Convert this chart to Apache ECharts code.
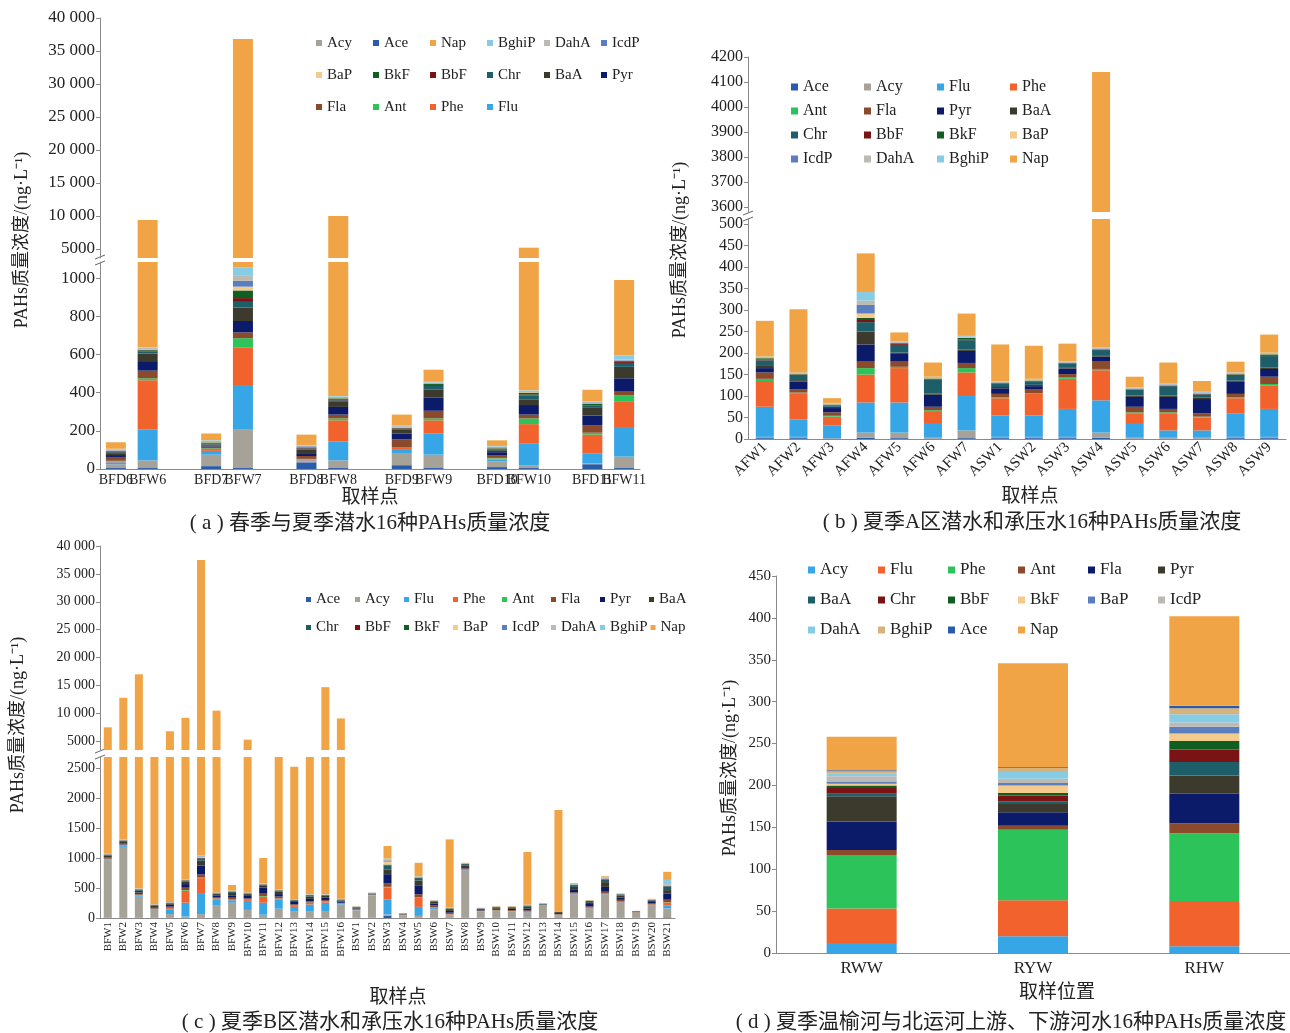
<!DOCTYPE html>
<html>
<head>
<meta charset="utf-8">
<script src="https://cdn.jsdelivr.net/npm/echarts@6/dist/echarts.min.js"></script>
<style>
html,body{margin:0;padding:0;background:#fff;}
#chart{width:1290px;height:1033px;}
</style>
</head>
<body>
<div id="chart"></div>
<script>
const SERIF = '"Liberation Serif","Times New Roman","Noto Sans CJK SC",serif';

// ---------- (a) spring / summer phreatic water, B area ----------
const aSites = ['BFD6','BFW6','BFD7','BFW7','BFD8','BFW8','BFD9','BFW9','BFD10','BFW10','BFD11','BFW11'];
const aAce   = [5, 5, 15, 5, 35, 5, 20, 5, 10, 5, 25, 5];
const aAcy   = [20, 40, 60, 200, 5, 40, 60, 70, 30, 15, 5, 60];
const aFlu   = [10, 160, 20, 230, 5, 100, 20, 110, 10, 115, 50, 150];
const aPhe   = [5, 260, 10, 200, 5, 110, 10, 70, 5, 100, 100, 140];
const aAnt   = [3, 10, 3, 50, 3, 10, 5, 10, 3, 30, 10, 30];
const aFla   = [20, 40, 10, 30, 15, 20, 40, 40, 15, 20, 40, 20];
const aPyr   = [10, 50, 5, 60, 15, 40, 30, 70, 15, 50, 50, 70];
const aBaA   = [10, 40, 5, 70, 20, 30, 20, 40, 10, 30, 40, 60];
const aChr   = [5, 10, 5, 30, 5, 5, 5, 20, 5, 20, 10, 20];
const aBbF   = [3, 5, 3, 20, 3, 5, 3, 5, 3, 5, 3, 5];
const aBkF   = [3, 5, 3, 40, 3, 5, 3, 5, 3, 10, 10, 5];
const aBaP   = [3, 3, 3, 20, 3, 3, 3, 3, 3, 3, 3, 3];
const aIcdP  = [3, 3, 3, 30, 3, 3, 3, 3, 3, 3, 3, 3];
const aDahA  = [3, 3, 3, 30, 3, 3, 3, 3, 3, 3, 3, 3];
const aBghiP = [3, 3, 3, 40, 3, 3, 3, 3, 3, 3, 3, 20];
const aNap   = [34, 8760, 35, 35745, 54, 9618, 57, 63, 29, 4790, 60, 396];
const aUpperTicks = [5000, 10000, 15000, 20000, 25000, 30000, 35000, 40000];
const aLowerTicks = [0, 200, 400, 600, 800, 1000];
const aLegend = ['Acy','Ace','Nap','BghiP','DahA','IcdP','BaP','BkF','BbF','Chr','BaA','Pyr','Fla','Ant','Phe','Flu'];

// ---------- (b) summer, A area ----------
const bSites = ['AFW1','AFW2','AFW3','AFW4','AFW5','AFW6','AFW7','ASW1','ASW2','ASW3','ASW4','ASW5','ASW6','ASW7','ASW8','ASW9'];
const bAce   = [2, 2, 1, 3, 2, 1, 2, 2, 2, 2, 3, 1, 1, 1, 2, 2];
const bAcy   = [3, 3, 1, 12, 13, 2, 18, 3, 3, 3, 12, 2, 2, 2, 3, 3];
const bFlu   = [70, 40, 30, 70, 70, 32, 80, 50, 50, 65, 75, 32, 17, 17, 55, 65];
const bPhe   = [60, 60, 20, 65, 80, 30, 55, 40, 50, 70, 70, 25, 40, 30, 35, 55];
const bAnt   = [5, 3, 2, 15, 3, 2, 10, 2, 2, 3, 3, 2, 2, 2, 2, 3];
const bFla   = [15, 8, 8, 15, 12, 8, 12, 8, 8, 8, 17, 13, 8, 8, 8, 17];
const bPyr   = [10, 18, 10, 40, 18, 28, 28, 13, 8, 13, 12, 23, 28, 33, 28, 18];
const bBaA   = [5, 3, 3, 30, 3, 3, 3, 3, 3, 3, 3, 3, 3, 3, 3, 3];
const bChr   = [13, 12, 3, 22, 18, 33, 22, 8, 8, 8, 12, 13, 22, 8, 13, 27];
const bBbF   = [2, 1, 1, 5, 2, 1, 2, 1, 1, 1, 1, 1, 1, 1, 1, 2];
const bBkF   = [3, 1, 1, 5, 2, 1, 3, 1, 1, 1, 1, 1, 1, 1, 1, 2];
const bBaP   = [1, 1, 1, 10, 1, 1, 2, 1, 1, 1, 1, 1, 1, 1, 1, 1];
const bIcdP  = [1, 1, 1, 20, 1, 1, 1, 1, 1, 1, 1, 1, 1, 1, 1, 1];
const bDahA  = [1, 1, 1, 10, 1, 1, 1, 1, 1, 1, 1, 1, 1, 1, 1, 1];
const bBghiP = [1, 1, 1, 20, 1, 1, 1, 1, 1, 1, 1, 1, 1, 1, 1, 1];
const bNap   = [83, 147, 11, 90, 21, 33, 52, 85, 77, 41, 3927, 25, 49, 25, 25, 42];
const bUpperTicks = [3600, 3700, 3800, 3900, 4000, 4100, 4200];
const bLowerTicks = [0, 50, 100, 150, 200, 250, 300, 350, 400, 450, 500];
const bLegend = ['Ace','Acy','Flu','Phe','Ant','Fla','Pyr','BaA','Chr','BbF','BkF','BaP','IcdP','DahA','BghiP','Nap'];

// ---------- (c) summer, B area ----------
const cSites = ['BFW1','BFW2','BFW3','BFW4','BFW5','BFW6','BFW7','BFW8','BFW9','BFW10','BFW11','BFW12','BFW13','BFW14','BFW15','BFW16',
  'BSW1','BSW2','BSW3','BSW4','BSW5','BSW6','BSW7','BSW8','BSW9','BSW10','BSW11','BSW12','BSW13','BSW14','BSW15','BSW16','BSW17','BSW18','BSW19','BSW20','BSW21'];
const cAce   = [5,5,5,5,5,5,5,5,5,5,5,5,5,5,5,5,5,5,40,5,5,5,5,5,5,5,5,5,5,5,5,5,5,5,5,5,10];
const cAcy   = [960,1180,350,130,60,20,60,200,250,130,50,150,100,100,100,220,120,370,20,38,30,140,40,780,98,110,100,80,195,40,380,145,380,245,78,200,150];
const cFlu   = [10,20,20,10,80,230,350,100,40,150,200,150,80,120,150,10,5,5,250,5,150,20,10,10,5,5,5,10,5,5,10,10,10,10,5,10,50];
const cPhe   = [10,10,10,5,20,200,250,20,10,20,100,20,20,30,20,5,5,5,200,5,150,10,10,10,5,5,5,10,5,5,10,10,10,10,5,10,50];
const cAnt   = [3,3,3,3,5,10,10,3,3,3,10,3,3,3,3,3,3,3,10,2,10,3,3,3,3,3,3,3,3,3,3,3,3,3,2,3,5];
const cFla   = [10,10,15,10,20,40,50,20,30,20,40,30,20,20,20,10,10,5,60,5,50,30,20,20,10,10,15,20,5,10,20,20,30,30,5,20,40];
const cPyr   = [10,10,20,15,30,60,150,30,40,40,100,40,40,40,40,20,10,5,150,5,150,30,30,20,10,15,20,30,5,15,40,40,80,40,5,20,100];
const cBaA   = [30,30,30,25,20,40,80,20,40,30,40,40,20,40,30,20,15,5,80,5,80,30,30,30,15,20,20,30,5,15,50,30,80,30,5,20,60];
const cChr   = [15,20,20,10,10,20,40,10,20,10,10,20,10,20,10,10,5,3,60,3,40,10,10,20,5,10,10,15,5,5,30,20,40,20,3,10,60];
const cBbF   = [3,3,3,3,3,3,5,3,3,3,3,3,3,3,3,3,3,3,10,1,5,3,3,3,2,2,2,3,2,2,3,2,5,2,1,2,5];
const cBkF   = [3,3,3,3,3,3,6,3,3,3,3,3,3,3,3,3,3,3,10,1,5,3,3,3,2,2,2,3,2,2,3,2,6,2,1,2,5];
const cBaP   = [3,3,3,3,3,3,10,3,3,3,3,3,3,3,3,3,3,3,50,1,5,3,3,3,2,2,2,3,2,2,3,2,10,2,1,2,10];
const cIcdP  = [3,3,3,3,3,3,10,3,3,3,3,3,3,3,3,3,3,3,20,1,5,3,3,3,2,2,2,3,2,2,3,2,10,2,1,2,10];
const cDahA  = [3,3,3,3,3,3,10,3,3,3,3,3,3,3,3,3,3,3,10,1,5,3,3,3,2,2,2,3,2,2,3,2,10,2,1,2,10];
const cBghiP = [3,3,3,3,3,3,10,3,3,3,3,3,3,3,3,3,3,3,20,1,5,3,3,3,2,2,2,3,2,2,3,2,10,2,1,2,70];
const cNap   = [6430,11490,16510,2470,6530,8560,36450,10070,94,4874,427,2224,2204,2304,14304,8779,4,2,210,1,225,4,1134,4,2,5,5,879,5,1685,14,5,12,5,1,10,135];
const cUpperTicks = [5000, 10000, 15000, 20000, 25000, 30000, 35000, 40000];
const cLowerTicks = [0, 500, 1000, 1500, 2000, 2500];
const cLegend = ['Ace','Acy','Flu','Phe','Ant','Fla','Pyr','BaA','Chr','BbF','BkF','BaP','IcdP','DahA','BghiP','Nap'];

// ---------- (d) river water ----------
const dSites = ['RWW','RYW','RHW'];
const dAcy   = [12, 20, 8];
const dFlu   = [41, 43, 54];
const dPhe   = [64, 84, 81];
const dAnt   = [6, 5, 12];
const dFla   = [34, 16, 35];
const dPyr   = [30, 10, 22];
const dBaA   = [3, 3, 16];
const dChr   = [7, 7, 15];
const dBbF   = [3, 3, 10];
const dBkF   = [2, 9, 9];
const dBaP   = [2, 3, 8];
const dIcdP  = [7, 5, 5];
const dDahA  = [3, 8, 10];
const dBghiP = [3, 5, 7];
const dAce   = [1, 1, 3];
const dNap   = [40, 124, 107];
const dLegend = ['Acy','Flu','Phe','Ant','Fla','Pyr','BaA','Chr','BbF','BkF','BaP','IcdP','DahA','BghiP','Ace','Nap'];

// stacking order (bottom -> top) and colours
const stackABC = ['Ace','Acy','Flu','Phe','Ant','Fla','Pyr','BaA','Chr','BbF','BkF','BaP','IcdP','DahA','BghiP','Nap'];
const stackD   = ['Acy','Flu','Phe','Ant','Fla','Pyr','BaA','Chr','BbF','BkF','BaP','IcdP','DahA','BghiP','Ace','Nap'];
const colorABC = {Ace:'#2A5CAA', Acy:'#A6A298', Flu:'#36A6E6', Phe:'#F2622C', Ant:'#2CC35A', Fla:'#8C4A2C',
  Pyr:'#0C1A6A', BaA:'#3C3A2C', Chr:'#1E5E68', BbF:'#7A1414', BkF:'#115E22', BaP:'#F3CB8C',
  IcdP:'#5B7EC0', DahA:'#BDBAB4', BghiP:'#86CCE4', Nap:'#F0A446'};
const colorD = {Acy:'#36A6E6', Flu:'#F2622C', Phe:'#2CC35A', Ant:'#8C4A2C', Fla:'#0C1A6A', Pyr:'#3C3A2C',
  BaA:'#1E5E68', Chr:'#7A1414', BbF:'#115E22', BkF:'#F3CB8C', BaP:'#5B7EC0', IcdP:'#BDBAB4',
  DahA:'#86CCE4', BghiP:'#D8B27C', Ace:'#2A5CAA', Nap:'#F0A446'};

// pairs of sites in (a) are separated by an empty slot
function withGaps(arr, gap) {
  const out = [];
  arr.forEach((v, i) => { out.push(v); if (i % 2 === 1 && i < arr.length - 1) out.push(gap); });
  return out;
}
const aCats = withGaps(aSites, '');
const aMap = {Ace:aAce, Acy:aAcy, Flu:aFlu, Phe:aPhe, Ant:aAnt, Fla:aFla, Pyr:aPyr, BaA:aBaA, Chr:aChr,
  BbF:aBbF, BkF:aBkF, BaP:aBaP, IcdP:aIcdP, DahA:aDahA, BghiP:aBghiP, Nap:aNap};
const bMap = {Ace:bAce, Acy:bAcy, Flu:bFlu, Phe:bPhe, Ant:bAnt, Fla:bFla, Pyr:bPyr, BaA:bBaA, Chr:bChr,
  BbF:bBbF, BkF:bBkF, BaP:bBaP, IcdP:bIcdP, DahA:bDahA, BghiP:bBghiP, Nap:bNap};
const cMap = {Ace:cAce, Acy:cAcy, Flu:cFlu, Phe:cPhe, Ant:cAnt, Fla:cFla, Pyr:cPyr, BaA:cBaA, Chr:cChr,
  BbF:cBbF, BkF:cBkF, BaP:cBaP, IcdP:cIcdP, DahA:cDahA, BghiP:cBghiP, Nap:cNap};
const dMap = {Ace:dAce, Acy:dAcy, Flu:dFlu, Phe:dPhe, Ant:dAnt, Fla:dFla, Pyr:dPyr, BaA:dBaA, Chr:dChr,
  BbF:dBbF, BkF:dBkF, BaP:dBaP, IcdP:dIcdP, DahA:dDahA, BghiP:dBghiP, Nap:dNap};

// thousands grouped with a space from 10 000 up
const fmt = v => v >= 10000 ? String(v).replace(/\B(?=(\d{3})+(?!\d))/g, ' ') : String(v);
const AXIS_COLOR = '#8a8a8a';

function stackSeries(order, colors, map, axisIdx, stackId, barWidth, mapData) {
  return order.map(n => ({
    type: 'bar', name: n, stack: stackId, xAxisIndex: axisIdx, yAxisIndex: axisIdx,
    barWidth: barWidth, clip: true,
    data: mapData ? mapData(map[n]) : map[n],
    itemStyle: { color: colors[n] },
    emphasis: { disabled: true }
  }));
}

function valueAxis(gi, min, max, ticks, fs) {
  return {
    type: 'value', gridIndex: gi, min: min, max: max,
    splitLine: { show: false },
    axisLine: { show: true, lineStyle: { color: AXIS_COLOR } },
    axisTick: { show: true, customValues: ticks, length: 4, lineStyle: { color: AXIS_COLOR } },
    axisLabel: { customValues: ticks, formatter: fmt, fontFamily: SERIF, fontSize: fs, color: '#222', margin: 5 }
  };
}

function hiddenCat(gi, cats) {
  return { type: 'category', gridIndex: gi, data: cats, show: false };
}

function legendOf(names, colors, left, top, width, fs, textW, gap, lh, icon) {
  return {
    left: left, top: top, width: width, orient: 'horizontal',
    itemWidth: icon, itemHeight: icon, itemGap: gap, icon: 'rect',
    selectedMode: false,
    data: names.map(n => ({ name: n, itemStyle: { color: colors[n] } })),
    textStyle: { fontFamily: SERIF, fontSize: fs, color: '#222', width: textW, lineHeight: lh }
  };
}

const grids = [
  { left: 100, width: 540, top: 18, height: 240 },   // a upper
  { left: 100, width: 540, top: 262, height: 207 },  // a lower
  { left: 748, width: 538, top: 57, height: 155 },   // b upper
  { left: 748, width: 538, top: 219, height: 220 },  // b lower
  { left: 100, width: 575, top: 546, height: 204 },  // c upper
  { left: 100, width: 575, top: 757, height: 161 },  // c lower
  { left: 776, width: 558, top: 576, height: 377 }   // d
];

const xAxes = [
  hiddenCat(0, aCats),
  { type: 'category', gridIndex: 1, data: aCats,
    axisLine: { lineStyle: { color: AXIS_COLOR } },
    axisTick: { interval: (i, v) => v === '', alignWithLabel: true, inside: true, length: 8, lineStyle: { color: '#444' } },
    axisLabel: { interval: 0, fontFamily: SERIF, fontSize: 14, color: '#222', margin: 4 } },
  hiddenCat(2, bSites),
  { type: 'category', gridIndex: 3, data: bSites,
    axisLine: { lineStyle: { color: AXIS_COLOR } },
    axisTick: { inside: true, length: 5, lineStyle: { color: '#444' } },
    axisLabel: { interval: 0, rotate: 45, fontFamily: SERIF, fontSize: 15, color: '#222', margin: 6 } },
  hiddenCat(4, cSites),
  { type: 'category', gridIndex: 5, data: cSites,
    axisLine: { lineStyle: { color: AXIS_COLOR } },
    axisTick: { length: 3, lineStyle: { color: '#666' } },
    axisLabel: { interval: 0, rotate: 90, fontFamily: SERIF, fontSize: 11, color: '#222', margin: 4 } },
  { type: 'category', gridIndex: 6, data: dSites,
    axisLine: { lineStyle: { color: AXIS_COLOR } },
    axisTick: { inside: true, length: 5, lineStyle: { color: '#444' } },
    axisLabel: { interval: 0, fontFamily: SERIF, fontSize: 17, color: '#222', margin: 7 } }
];

const yAxes = [
  valueAxis(0, 3640, 40000, aUpperTicks, 17),
  valueAxis(1, 0, 1084, aLowerTicks, 17),
  valueAxis(2, 3580, 4200, bUpperTicks, 16),
  valueAxis(3, 0, 512, bLowerTicks, 16),
  valueAxis(4, 3440, 40000, cUpperTicks, 14),
  valueAxis(5, 0, 2683, cLowerTicks, 14),
  { type: 'value', gridIndex: 6, min: 0, max: 450, interval: 50,
    splitLine: { show: false },
    axisLine: { show: true, lineStyle: { color: AXIS_COLOR } },
    axisTick: { show: true, length: 4, lineStyle: { color: AXIS_COLOR } },
    axisLabel: { fontFamily: SERIF, fontSize: 15, color: '#222', margin: 5 } }
];

const gapA = arr => withGaps(arr, '-');
const series = [].concat(
  stackSeries(stackABC, colorABC, aMap, 0, 'aU', 20, gapA),
  stackSeries(stackABC, colorABC, aMap, 1, 'aL', 20, gapA),
  stackSeries(stackABC, colorABC, bMap, 2, 'bU', 18),
  stackSeries(stackABC, colorABC, bMap, 3, 'bL', 18),
  stackSeries(stackABC, colorABC, cMap, 4, 'cU', 8),
  stackSeries(stackABC, colorABC, cMap, 5, 'cL', 8),
  stackSeries(stackD, colorD, dMap, 6, 'd', 70)
);

const legends = [
  legendOf(aLegend, colorABC, 311, 26, 345, 15, 38, 8, 24, 6),
  legendOf(bLegend, colorABC, 786, 73, 300, 16, 55, 6, 18, 7),
  legendOf(cLegend, colorABC, 301, 582, 395, 15, 36, 3, 25, 5),
  legendOf(dLegend, colorD, 803, 554, 425, 17, 50, 8, 22, 7)
];

const yName = 'PAHs质量浓度/(ng·L⁻¹)';
function txt(x, y, text, size, rotate) {
  return {
    type: 'text', x: x, y: y, rotation: rotate ? Math.PI / 2 : 0, silent: true,
    style: { text: text, fontFamily: SERIF, fontSize: size, fill: '#222', align: 'center', verticalAlign: 'middle' }
  };
}
function breakMark(x, y) {
  return [
    { type: 'line', silent: true, shape: { x1: x - 5, y1: y - 1, x2: x + 5, y2: y - 5 }, style: { stroke: '#666', lineWidth: 1 } },
    { type: 'line', silent: true, shape: { x1: x - 5, y1: y + 5, x2: x + 5, y2: y + 1 }, style: { stroke: '#666', lineWidth: 1 } }
  ];
}

const graphics = [
  txt(22, 240, yName, 18, true),
  txt(370, 498, '取样点', 19),
  txt(370, 523, '( a ) 春季与夏季潜水16种PAHs质量浓度', 21),
  txt(680, 250, yName, 18, true),
  txt(1030, 497, '取样点', 19),
  txt(1032, 522, '( b ) 夏季A区潜水和承压水16种PAHs质量浓度', 21),
  txt(18, 725, yName, 18, true),
  txt(398, 998, '取样点', 19),
  txt(390, 1022, '( c ) 夏季B区潜水和承压水16种PAHs质量浓度', 21),
  txt(730, 768, yName, 18, true),
  txt(1057, 993, '取样位置', 19),
  txt(1011, 1022, '( d ) 夏季温榆河与北运河上游、下游河水16种PAHs质量浓度', 21)
].concat(breakMark(100, 260), breakMark(748, 216), breakMark(100, 754));

const chart = echarts.init(document.getElementById('chart'), null, { renderer: 'canvas' });
chart.setOption({
  backgroundColor: '#fff',
  animation: false,
  grid: grids,
  xAxis: xAxes,
  yAxis: yAxes,
  legend: legends,
  series: series,
  graphic: graphics
});
</script>
</body>
</html>
